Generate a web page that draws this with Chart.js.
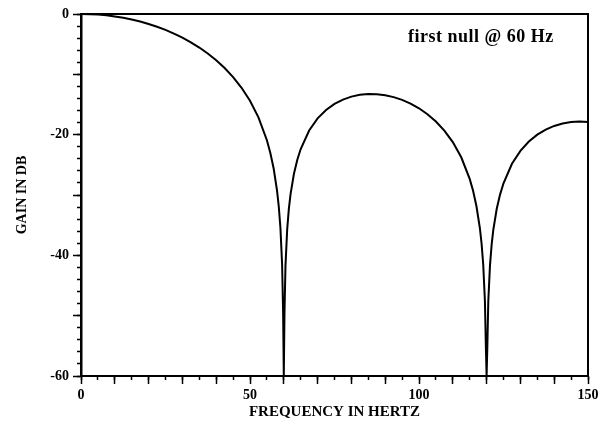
<!DOCTYPE html>
<html>
<head>
<meta charset="utf-8">
<script src="https://cdn.jsdelivr.net/npm/chart.js@4/dist/chart.umd.min.js"></script>
<style>
  html, body { margin: 0; padding: 0; background: #fff; }
  #wrap { width: 608px; height: 428px; }
</style>
</head>
<body>
<div id="wrap"><canvas id="c" width="608" height="428"></canvas></div>
<script>
// Frequency response of the averaging filter (first null at 60 Hz)
const freqHz = [
  0, 2.5, 5, 7.5, 10, 12.5, 15, 17.5, 20, 22.5, 25, 27.5, 30, 32.5, 35, 37.5,
  40, 42.5, 45, 47.5, 50, 52.5, 55, 56, 57, 58, 58.5, 59, 59.5, 59.8, 60,
  60.2, 60.5, 61, 61.5, 62, 63, 64, 65, 67.5, 70, 72.5, 75, 77.5, 80, 82.5,
  85, 87.5, 90, 92.5, 95, 97.5, 100, 102.5, 105, 107.5, 110, 112.5, 115, 116,
  117, 118, 118.5, 119, 119.5, 119.8, 120, 120.2, 120.5, 121, 121.5, 122, 123,
  124, 125, 127.5, 130, 132.5, 135, 137.5, 140, 142.5, 145, 147.5, 150
];
const gainDb = [
  0, -0.03, -0.1, -0.22, -0.4, -0.63, -0.91, -1.25, -1.65, -2.11, -2.64, -3.24, -3.92, -4.69, -5.56, -6.55,
  -7.67, -8.96, -10.46, -12.23, -14.38, -17.13, -20.93, -22.99, -25.61, -29.26, -31.83, -35.42, -41.51, -49.5, -60,
  -49.57, -41.66, -35.71, -32.26, -29.84, -26.48, -24.15, -22.38, -19.31, -17.3, -15.9, -14.89, -14.18, -13.69, -13.4,
  -13.27, -13.3, -13.46, -13.78, -14.24, -14.85, -15.63, -16.61, -17.82, -19.32, -21.23, -23.75, -27.33, -29.31,
  -31.86, -35.43, -37.96, -41.52, -47.57, -55.55, -60, -55.58, -47.64, -41.66, -38.18, -35.72, -32.29,
  -29.89, -28.06, -24.83, -22.68, -21.14, -20.0, -19.16, -18.55, -18.14, -17.91, -17.83, -17.9
];

// Labelled ticks and the note in the upper right
const xLabelTicks = [0, 50, 100, 150];
const yLabelTicks = [0, -20, -40, -60];
const noteText = 'first null @ 60 Hz';
const noteAt = { x: 118.3, y: -3.8 };

const FONT = '"Liberation Serif", "Times New Roman", serif';
const INK = '#000';

const points = freqHz.map((f, i) => ({ x: f, y: gainDb[i] }));

const notePlugin = {
  id: 'note',
  afterDraw(chart) {
    const { ctx, scales } = chart;
    ctx.save();
    ctx.font = 'bold 18px ' + FONT;
    ctx.letterSpacing = '0.5px';
    ctx.fillStyle = INK;
    ctx.textAlign = 'center';
    ctx.textBaseline = 'middle';
    ctx.fillText(noteText, scales.x.getPixelForValue(noteAt.x), scales.y.getPixelForValue(noteAt.y));
    ctx.restore();
  }
};

const tickFont = { family: FONT, size: 14, weight: 'bold' };

new Chart(document.getElementById('c'), {
  type: 'scatter',
  data: {
    datasets: [{
      data: points,
      showLine: true,
      borderColor: INK,
      borderWidth: 2,
      pointRadius: 0,
      tension: 0,
      xAxisID: 'x',
      yAxisID: 'y'
    }]
  },
  options: {
    responsive: false,
    animation: false,
    events: [],
    layout: { padding: { left: 0, right: 20, top: 14, bottom: 0 } },
    plugins: { legend: { display: false }, tooltip: { enabled: false } },
    scales: {
      x: {
        type: 'linear', position: 'bottom', weight: 1,
        min: 0, max: 150,
        afterBuildTicks: s => { s.ticks = [0, 10, 20, 30, 40, 50, 60, 70, 80, 90, 100, 110, 120, 130, 140, 150].map(v => ({ value: v })); },
        ticks: {
          color: INK, font: tickFont, padding: 3, maxRotation: 0,
          callback: v => xLabelTicks.includes(v) ? String(v) : ''
        },
        grid: { drawOnChartArea: false, drawTicks: true, tickLength: 8, tickColor: INK, tickWidth: 1.5 },
        border: { display: true, color: INK, width: 2 },
        title: { display: true, text: 'FREQUENCY IN HERTZ', color: INK, font: { family: FONT, size: 15, weight: 'bold' }, padding: { top: 0, bottom: 7 } },
        afterFit: s => { s.height = 52; }
      },
      xm: {
        type: 'linear', position: 'bottom', weight: 0,
        min: 0, max: 150,
        ticks: { display: false, stepSize: 5 },
        grid: { drawOnChartArea: false, drawTicks: true, tickLength: 4, tickColor: INK, tickWidth: 1.5 },
        border: { display: false },
        afterFit: s => { s.height = 0; }
      },
      xt: {
        type: 'linear', position: 'top',
        min: 0, max: 150,
        ticks: { display: false },
        grid: { drawOnChartArea: false, drawTicks: false },
        border: { display: true, color: INK, width: 2 },
        afterFit: s => { s.height = 0; }
      },
      y: {
        type: 'linear', position: 'left', weight: 1,
        min: -60, max: 0,
        afterBuildTicks: s => { s.ticks = [0, -10, -20, -30, -40, -50, -60].map(v => ({ value: v })); },
        ticks: {
          color: INK, font: tickFont, padding: 4,
          callback: v => yLabelTicks.includes(v) ? String(v) : ''
        },
        grid: { drawOnChartArea: false, drawTicks: true, tickLength: 8, tickColor: INK, tickWidth: 1.5 },
        border: { display: true, color: INK, width: 2.5 },
        title: { display: true, text: 'GAIN IN DB', color: INK, font: { family: FONT, size: 14, weight: 'bold' }, padding: { top: 14, bottom: 0 } },
        afterFit: s => { s.width = 81; }
      },
      ym: {
        type: 'linear', position: 'left', weight: 0,
        min: -60, max: 0,
        ticks: { display: false, stepSize: 2 },
        grid: { drawOnChartArea: false, drawTicks: true, tickLength: 4, tickColor: INK, tickWidth: 1.5 },
        border: { display: false },
        afterFit: s => { s.width = 0; }
      },
      yr: {
        type: 'linear', position: 'right',
        min: -60, max: 0,
        ticks: { display: false },
        grid: { drawOnChartArea: false, drawTicks: false },
        border: { display: true, color: INK, width: 2 },
        afterFit: s => { s.width = 0; }
      }
    }
  },
  plugins: [notePlugin]
});
</script>
</body>
</html>
